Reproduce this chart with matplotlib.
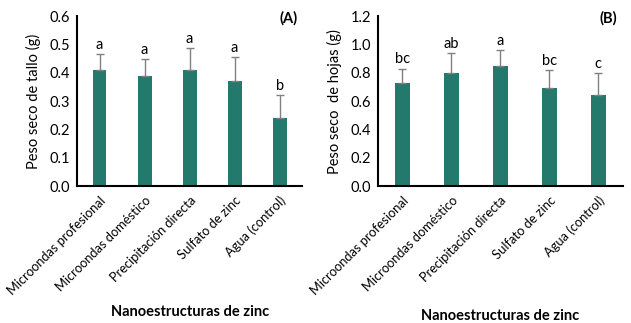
import matplotlib
matplotlib.use("Agg")
import matplotlib.pyplot as plt
import numpy as np

categories = ["Microondas profesional", "Microondas doméstico", "Precipitación directa",
              "Sulfato de zinc", "Agua (control)"]
tallo = [0.41, 0.39, 0.41, 0.37, 0.24]
tallo_err = [0.056, 0.057, 0.078, 0.086, 0.080]
tallo_letters = ["a", "a", "a", "a", "b"]
hojas = [0.73, 0.80, 0.85, 0.69, 0.64]
hojas_err = [0.10, 0.14, 0.11, 0.13, 0.16]
hojas_letters = ["bc", "ab", "a", "bc", "c"]

plt.rcParams['font.family'] = ['Lato', 'DejaVu Sans']
color = '#237A6C'

fig = plt.figure(figsize=(6.31, 3.23), dpi=100)
axA = fig.add_axes([0.122, 0.424, 0.357, 0.526])
axB = fig.add_axes([0.599, 0.424, 0.388, 0.526])

def panel(ax, vals, errs, letters, ymax, ystep, ylabel, tag, fmt, off, xlab_xy):
    x = np.arange(len(categories))
    ax.bar(x, vals, width=0.31, color=color, zorder=2)
    ax.errorbar(x, vals, yerr=[np.zeros(len(vals)), errs], fmt='none',
                ecolor='#808080', elinewidth=1, capsize=3, capthick=1, zorder=3)
    for xi, v, e, l in zip(x, vals, errs, letters):
        ax.text(xi, v + e + off, l, ha='center', va='bottom', fontsize=10.5)
    ax.set_xlim(-0.5, len(categories) - 0.5)
    ax.set_ylim(0, ymax)
    ticks = np.arange(0, ymax + ystep / 2, ystep)
    ax.set_yticks(ticks)
    ax.set_yticklabels([fmt.format(t) for t in ticks], fontsize=10.5)
    ax.set_xticks(x)
    ax.set_xticklabels(categories, rotation=45, ha='right', rotation_mode='anchor', fontsize=9.3)
    ax.tick_params(length=0, pad=5)
    ax.tick_params(axis='x', pad=6)
    for s in ['top', 'right']:
        ax.spines[s].set_visible(False)
    for s in ['left', 'bottom']:
        ax.spines[s].set_linewidth(1.5)
    ax.set_ylabel(ylabel, fontsize=10.5, labelpad=6)
    fig.text(xlab_xy[0] / 631, 1 - xlab_xy[1] / 323, "Nanoestructuras de zinc",
             ha='center', va='center', fontsize=10.5, fontweight='bold')
    ax.text(0.94, 0.99, tag, transform=ax.transAxes, ha='center', va='center',
            fontsize=10.5, fontweight='bold')

panel(axA, tallo, tallo_err, tallo_letters, 0.6, 0.1, "Peso seco de tallo (g)", "(A)", "{:.1f}", 0.008, (190, 312))
panel(axB, hojas, hojas_err, hojas_letters, 1.2, 0.2, "Peso seco  de hojas (g)", "(B)", "{:.1f}", 0.016, (500, 316))

fig.savefig("out.png", dpi=100)
